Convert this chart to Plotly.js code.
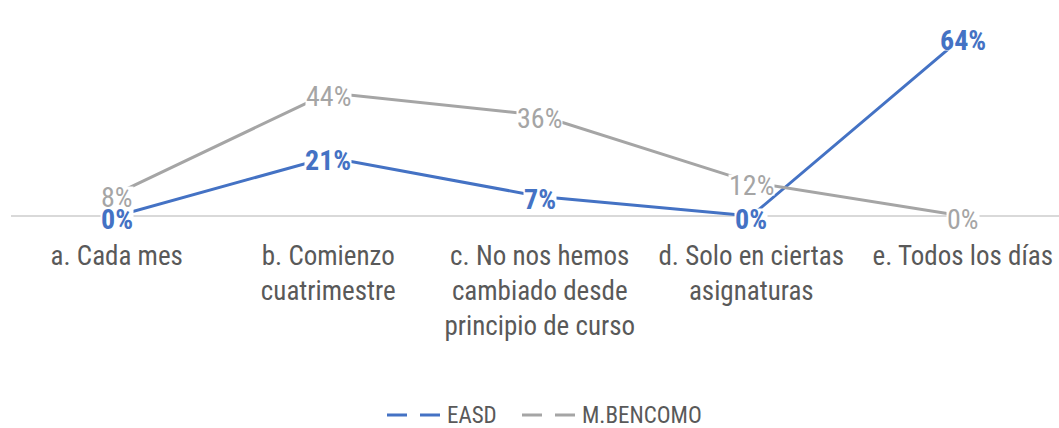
<!DOCTYPE html>
<html>
<head>
<meta charset="utf-8">
<script src="https://cdn.plot.ly/plotly-3.0.1.min.js"></script>
<style>html,body{margin:0;padding:0;background:#fff;}#chart{width:1059px;height:428px;}</style>
</head>
<body>
<div id="chart"></div>
<script>
var categories = ["a. Cada mes", "b. Comienzo<br>cuatrimestre", "c. No nos hemos<br>cambiado desde<br>principio de curso", "d. Solo en ciertas<br>asignaturas", "e. Todos los días"];
var easd = [0, 0.21, 0.07, 0, 0.64];
var bencomo = [0.08, 0.44, 0.36, 0.12, 0];
var seriesNames = ["EASD", "M.BENCOMO"];
var seriesColors = ["#4472C4", "#A5A5A5"];

var FONT = "'Liberation Sans Narrow', 'Roboto Condensed', 'Arial Narrow', Roboto, sans-serif";
var seriesData = [easd, bencomo];

var traces = [];
seriesData.forEach(function (vals, i) {
  traces.push({
    type: "scatter", mode: "lines", x: categories, y: vals, name: seriesNames[i],
    line: {color: seriesColors[i], width: 3}, showlegend: false, hoverinfo: "skip"
  });
});

var annotations = [];
// gray first so blue labels sit on top
[1, 0].forEach(function (i) {
  seriesData[i].forEach(function (v, j) {
    var t = Math.round(v * 100) + "%";
    annotations.push({
      x: categories[j], y: v, xref: "x", yref: "y", showarrow: false,
      text: i === 0 ? "<b>" + t + "</b>" : t,
      bgcolor: "#ffffff", borderpad: 0, height: 20, yshift: -3, valign: "middle",
      font: {family: FONT, size: 28, color: seriesColors[i]}
    });
  });
});

// custom legend (dashed line samples + names), positioned in paper coordinates
var plotL = 11, plotW = 1048, plotB = 216, plotH = 196;
function px2x(p) { return (p - plotL) / plotW; }
function py2y(p) { return (plotB - p) / plotH; }
var legendStarts = [387, 522];
var legendY = 415;
var shapes = [];
seriesNames.forEach(function (name, i) {
  var x0 = legendStarts[i];
  shapes.push({type: "line", xref: "paper", yref: "paper",
    x0: px2x(x0), x1: px2x(x0 + 55), y0: py2y(legendY), y1: py2y(legendY),
    line: {color: seriesColors[i], width: 3, dash: "20px,13px"}});
  annotations.push({xref: "paper", yref: "paper", x: px2x(x0 + 58), y: py2y(legendY + 1),
    xanchor: "left", yanchor: "middle", showarrow: false, text: name,
    font: {family: FONT, size: 23, color: "#595959"}});
});

var layout = {
  width: 1059, height: 428,
  margin: {l: plotL, r: 1059 - plotL - plotW, t: 20, b: 428 - plotB, autoexpand: false},
  paper_bgcolor: "#ffffff", plot_bgcolor: "#ffffff",
  showlegend: false,
  xaxis: {type: "category", range: [-0.5, 4.455], showgrid: false, zeroline: false, automargin: false,
    showline: false, ticks: "", tickfont: {family: FONT, size: 27, color: "#595959"},
    fixedrange: true, ticklabelstandoff: 21},
  yaxis: {range: [0, 0.7], showgrid: false, zeroline: true, zerolinecolor: "#D9D9D9", automargin: false,
    zerolinewidth: 1.5, showticklabels: false, ticks: "", fixedrange: true},
  shapes: shapes,
  annotations: annotations,
  hovermode: false
};

Plotly.newPlot("chart", traces, layout, {displayModeBar: false, staticPlot: true});
</script>
</body>
</html>
